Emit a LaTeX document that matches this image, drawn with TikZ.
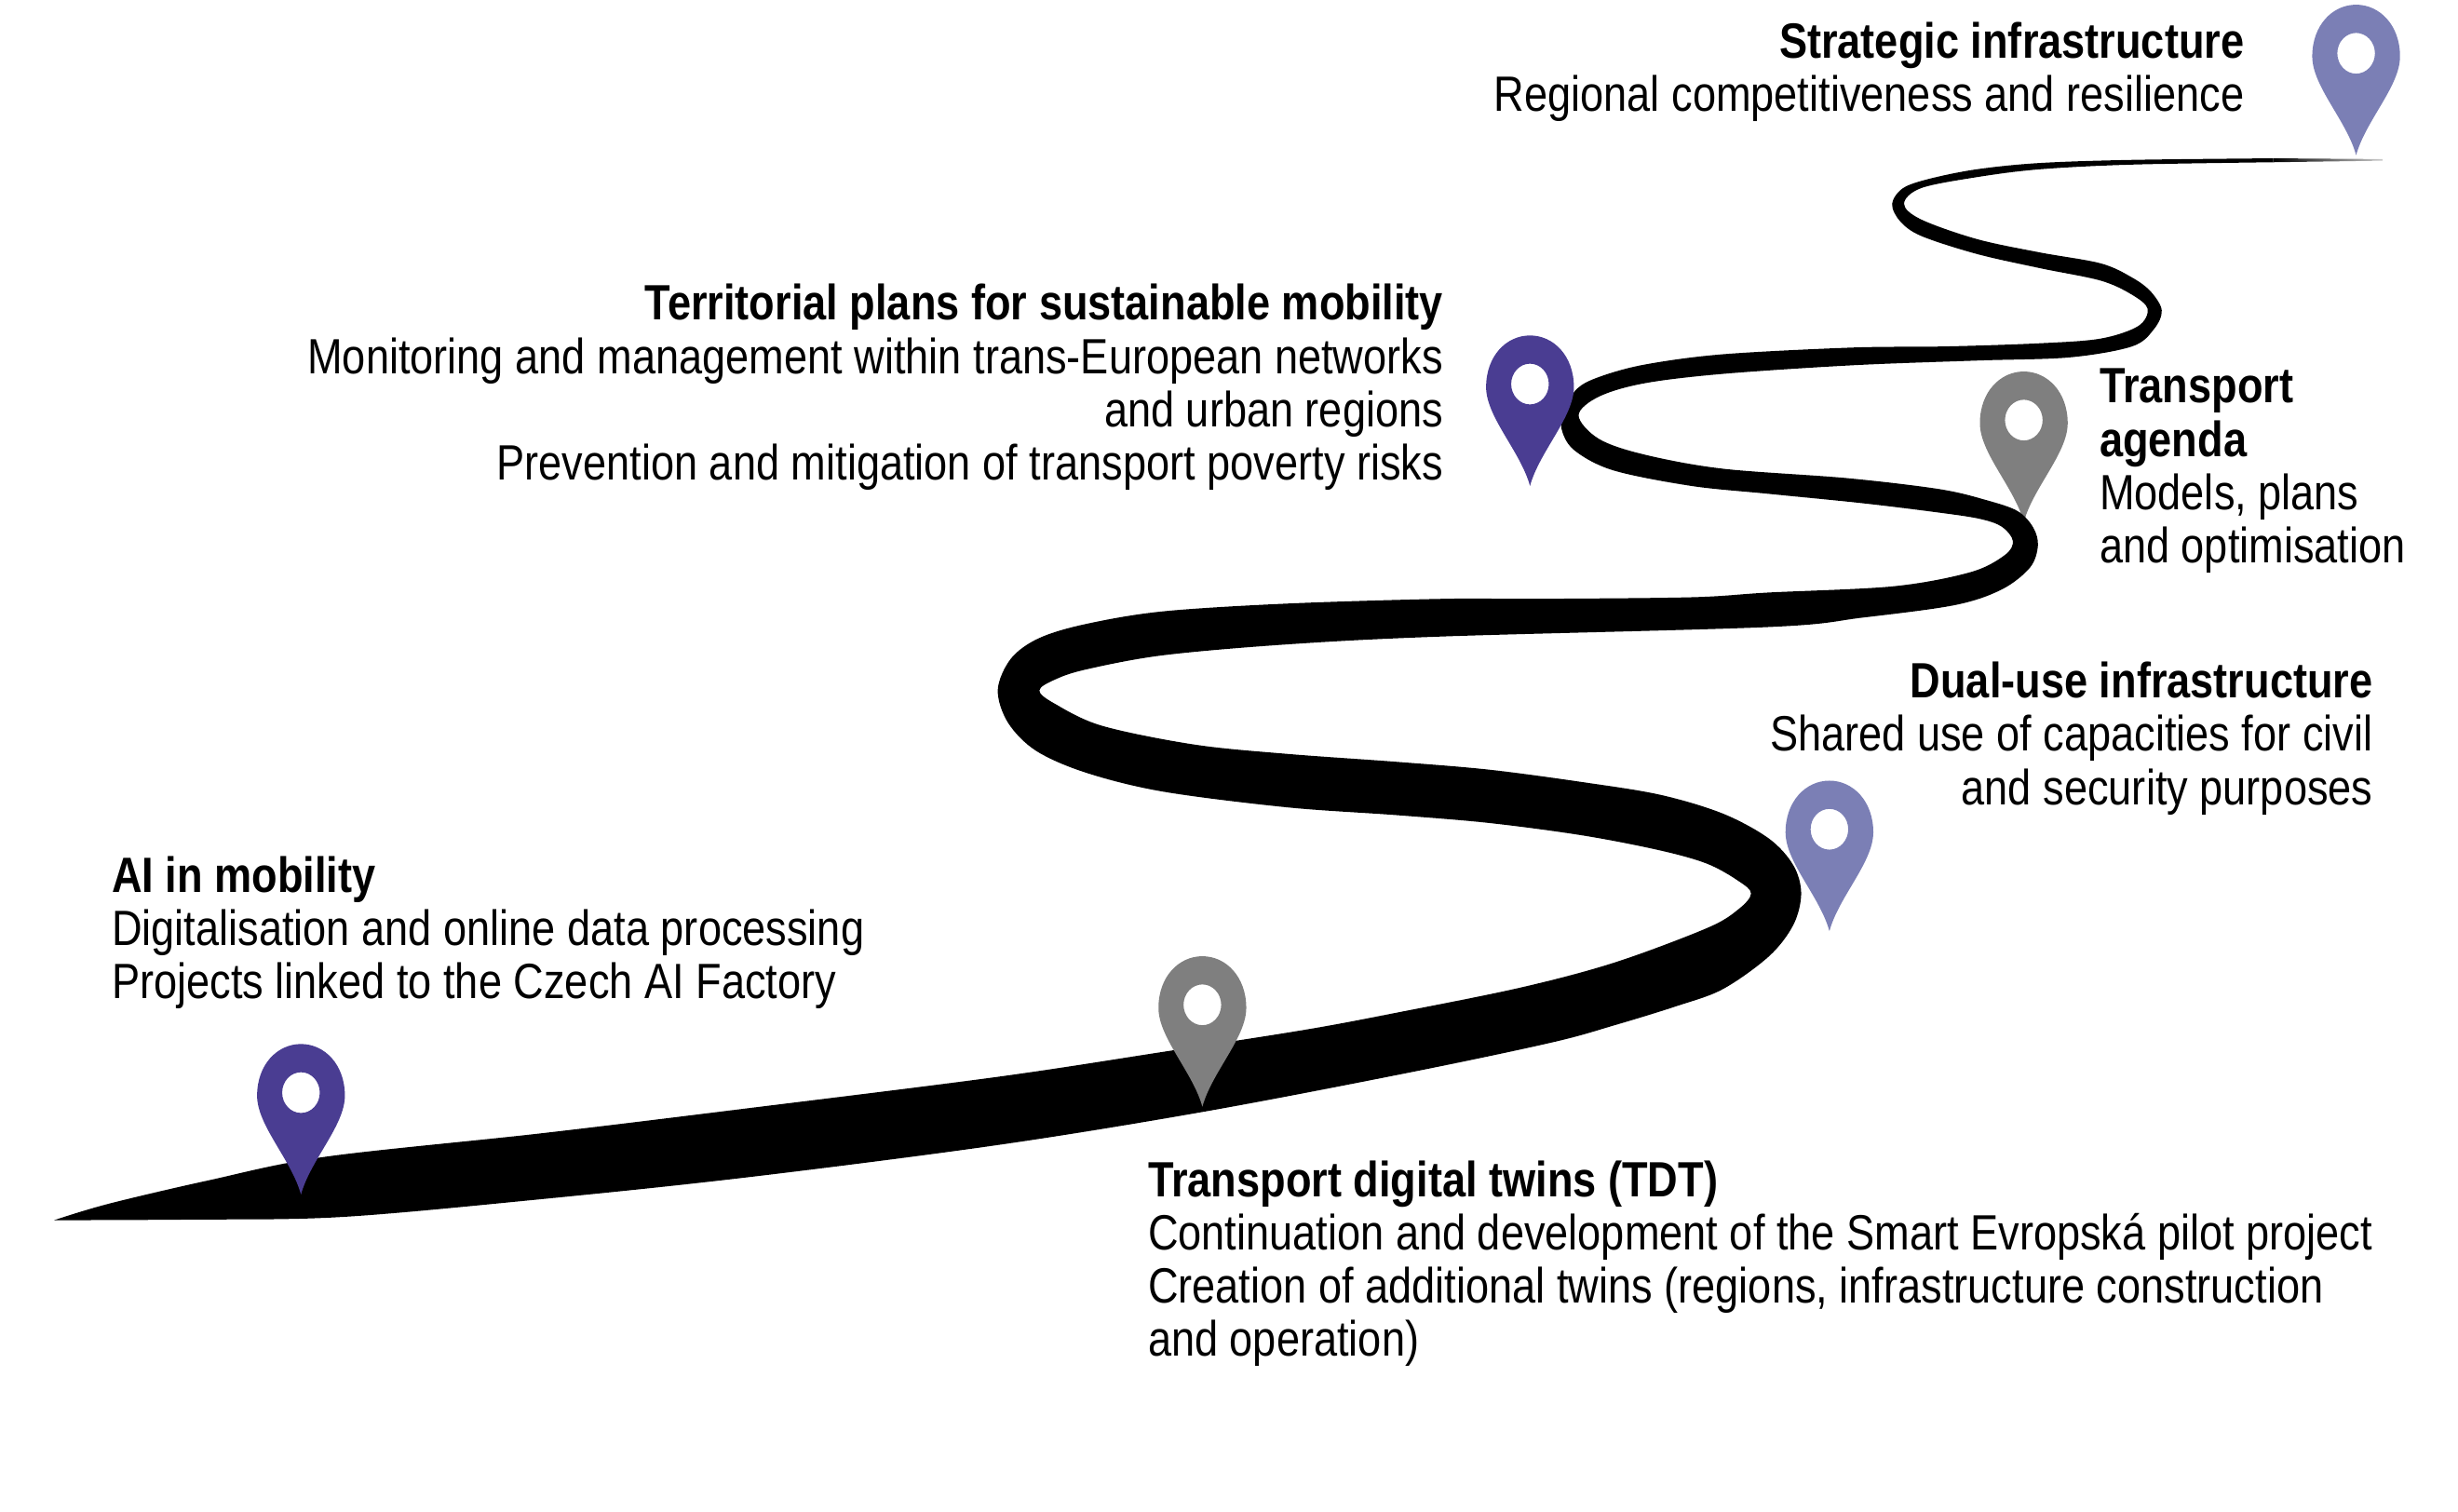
\documentclass[tikz,border=0pt]{standalone}
\usepackage{fontspec}
\setmainfont[FakeStretch=0.848]{Liberation Sans}
\definecolor{pindark}{HTML}{4A3D92}
\definecolor{pinmid}{HTML}{7B7FB5}
\definecolor{pingrey}{HTML}{7F7F7F}

\begin{document}
\begin{tikzpicture}[x=0.02cm, y=-0.02cm,
    note/.style={inner sep=0pt, font=\fontsize{18}{19.35}\selectfont, execute at begin node=\strut},
    noteleft/.style={note, anchor=north west, align=left},
    noteright/.style={note, anchor=north east, align=right},
    mapmark/.pic={
      \fill[#1, even odd rule] (0,0) .. controls (-6,-22) and (-28,-44) .. (-28,-63)
        .. controls (-28,-83) and (-15,-96) .. (0,-96)
        .. controls (15,-96) and (28,-83) .. (28,-63)
        .. controls (28,-44) and (6,-22) .. (0,0) -- cycle
        (0,-65) ellipse (12 and 13);
    }]
        % Fix the page to the size of the reference
        \useasboundingbox (0,0) rectangle (1568,964);

        % These two pins stand behind the road
        \foreach \x/\y/\c in {1167/594/pinmid, 1291/333/pingrey}
        {
          \pic at (\x,\y) {mapmark=\c};
        }

        % Draw the road, one edge up and the other edge back down
        \fill[black] plot[smooth, tension=0.55] coordinates {(34.5,778.4) (69,768) (133,753) (207,738) (345,723) (477,707) (636,687) (742,671) (832,657) (891,646) (970,630) (1030,614) (1089,592) (1109,580) (1117,570) (1109,562) (1089,551) (1059,542.5) (1010,533) (950,525) (891,520) (821,515) (742,505) (693,493) (661,479) (643,461) (636.5,440) (645,420) (663,407) (693,398) (742,390) (822,385) (921,382) (980,382) (1079,381) (1128,378) (1208,374) (1257,365) (1279,354) (1284,345) (1277,336) (1263,331) (1237,327) (1188,321) (1128,315) (1079,310) (1029,300) (1004,287) (996,273) (998,261) (1006,248) (1020,240.5) (1049,232.6) (1099,226) (1182,221.7) (1241,221) (1301,219) (1340,216) (1364,208) (1370,197) (1360,188) (1340,179) (1301,171) (1261,162) (1225.5,150.5) (1212,141) (1207,130) (1214,120) (1231,114) (1261,108) (1301,104) (1360,102) (1450,101)}
          -- plot[smooth, tension=0.55] coordinates {(1450,103.5) (1360,105) (1301,108) (1261,113) (1225.5,120) (1214.6,130) (1225.5,140) (1261,152.5) (1301,161) (1340,168) (1360,177) (1372,186) (1379,198) (1374,210) (1360,221) (1320,228) (1261,230) (1182,233) (1099,238.5) (1049,244.5) (1020,253) (1007,265) (1020,280) (1049,290) (1099,299) (1178,305) (1237,312) (1267,319) (1287,326) (1297,336.5) (1300,348) (1295,362) (1277,376) (1247,386) (1188,394) (1128,400) (921,406) (822,411) (742,418) (693,427) (673,433.5) (663,440.5) (673,449) (703,463) (762,475) (822,481) (891,486) (950,491) (1010,499) (1059,507) (1099,519) (1128.5,535) (1144,552) (1149,570) (1144,590) (1128.5,610) (1099,631) (1069,642) (1030,654) (990,665) (900,684) (769,709) (636,730.5) (477,751) (345,765) (217,776.4) (120,778) (34.5,778.4)}
          -- cycle;

        % The far end of the road fades out
        \shade[left color=black, right color=black!20] (1450,101) -- (1520,101.5) -- (1520,102.5) -- (1450,103.5) -- cycle;

        % These pins stand in front of it
        \foreach \x/\y/\c in {192/762/pindark, 767/706/pingrey, 976/310/pindark, 1503/99/pinmid}
        {
          \pic at (\x,\y) {mapmark=\c};
        }

        % Texts next to the pins
        \node[noteleft] (ai) at (71,546) {\textbf{AI in mobility}\\Digitalisation and online data processing\\Projects linked to the Czech AI Factory};
        \node[noteleft] (twins) at (732,740) {\textbf{Transport digital twins (TDT)}\\Continuation and development of the Smart Evropská pilot project\\Creation of additional twins (regions, infrastructure construction\\and operation)};
        \node[noteright] (dual) at (1514,422) {\textbf{Dual-use infrastructure}\\Shared use of capacities for civil\\and security purposes};
        \node[noteleft] (agenda) at (1339,235) {\textbf{Transport}\\\textbf{agenda}\\Models, plans\\and optimisation};
        \node[noteright] (plans) at (921,181) {\textbf{Territorial plans for sustainable mobility}\\Monitoring and management within trans-European networks\\and urban regions\\Prevention and mitigation of transport poverty risks};
        \node[noteright] (strategic) at (1432,14) {\textbf{Strategic infrastructure}\\Regional competitiveness and resilience};
      \end{tikzpicture}
\end{document}
